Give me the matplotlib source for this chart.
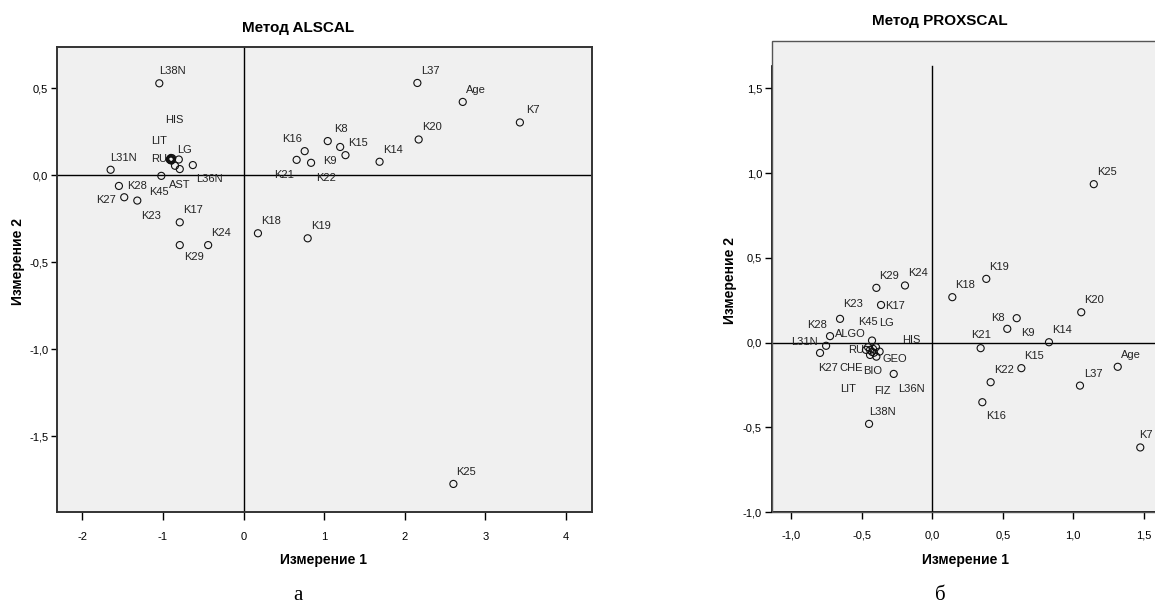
import matplotlib
matplotlib.use("Agg")
import matplotlib.pyplot as plt
from matplotlib.patches import Rectangle

plt.rcParams['font.family'] = ['Liberation Sans', 'DejaVu Sans']

# variables (same order for both solutions)
names = ["L31N", "L36N", "L37", "L38N", "Age", "K7", "K8", "K9", "K14", "K15",
         "K16", "K17", "K18", "K19", "K20", "K21", "K22", "K23", "K24", "K25",
         "K27", "K28", "K29", "K45", "HIS", "LIT", "LG", "RUS", "AST", "GEO",
         "BIO", "CHE", "FIZ", "ALGO"]

# ALSCAL coordinates
alscal_x = [-1.649, -0.629, 2.157, -1.045, 2.720, 3.429, 1.045, 1.199, 1.688, 1.265,
            0.759, -0.791, 0.179, 0.796, 2.173, 0.659, 0.838, -1.318, -0.439, 2.604,
            -1.480, -1.546, -0.791, -1.020, -0.900, -0.910, -0.803, -0.890, -0.791, -0.905,
            -0.885, -0.895, -0.850, -0.915]
alscal_y = [0.032, 0.059, 0.531, 0.529, 0.422, 0.304, 0.197, 0.163, 0.078, 0.116,
            0.139, -0.270, -0.333, -0.362, 0.206, 0.089, 0.072, -0.145, -0.401, -1.774,
            -0.126, -0.061, -0.401, -0.003, 0.100, 0.095, 0.091, 0.092, 0.036, 0.088,
            0.098, 0.085, 0.055, 0.090]

# PROXSCAL coordinates
prox_x = [-0.754, -0.274, 1.048, -0.449, 1.316, 1.476, 0.599, 0.532, 0.828, 0.632,
          0.355, -0.364, 0.142, 0.383, 1.057, 0.343, 0.414, -0.655, -0.194, 1.146,
          -0.797, -0.726, -0.397, -0.428, -0.374, -0.442, -0.400, -0.456, -0.421, -0.397,
          -0.428, -0.442, -0.414, -0.471]
prox_y = [-0.019, -0.185, -0.254, -0.480, -0.143, -0.619, 0.144, 0.081, 0.002, -0.151,
          -0.352, 0.222, 0.268, 0.376, 0.179, -0.033, -0.234, 0.140, 0.337, 0.935,
          -0.061, 0.038, 0.323, 0.012, -0.053, -0.043, -0.027, -0.027, -0.037, -0.083,
          -0.055, -0.073, -0.060, -0.043]

alscal_xticks = [-2, -1, 0, 1, 2, 3, 4]
alscal_yticks = [0.5, 0.0, -0.5, -1.0, -1.5]
prox_xticks = [-1.0, -0.5, 0.0, 0.5, 1.0, 1.5]
prox_yticks = [1.5, 1.0, 0.5, 0.0, -0.5, -1.0]

# label placement (pixels: right, down) where SPSS moved a label off the default spot
alscal_offsets = {"HIS": (3, -38), "LIT": (-11, -18), "RUS": (-13, 0), "LG": (6, -10),
                  "AST": (0, 16), "L36N": (17, 14), "K45": (-2, 16), "K28": (18, 0),
                  "K27": (-18, 3), "K23": (14, 15), "K29": (14, 12), "K16": (-13, -12),
                  "K9": (-10, 14), "K21": (-13, 15), "K22": (15, 15)}
alscal_hidden = {"GEO", "BIO", "CHE", "FIZ", "ALGO"}
prox_offsets = {"K8": (-19, 0), "K9": (21, 4), "K21": (0, -13), "K16": (14, 14),
                "K17": (14, 1), "K23": (13, -15), "K28": (-13, -11), "L31N": (-22, -4),
                "K27": (8, 15), "L36N": (18, 15), "K45": (-4, -19), "LG": (11, -24),
                "ALGO": (-16, -16), "HIS": (32, -12), "RUS": (-12, 3), "GEO": (18, 2),
                "CHE": (-19, 13), "BIO": (1, 19), "LIT": (-22, 39), "FIZ": (8, 38),
                "K7": (6, -12)}
prox_hidden = {"AST"}
shown_text = {"RUS": "RU"}

W, H = 1155, 606
fig = plt.figure(figsize=(W / 100, H / 100), dpi=100)


def fmt(v):
    return f"{v:.1f}".replace(".", ",")


def draw(ax, xs, ys, offsets, hidden):
    ax.set_facecolor("#f0f0f0")
    ax.axhline(0, color="black", lw=1.0, zorder=1)
    ax.scatter(xs, ys, s=26, facecolors="none", edgecolors="#111111",
               linewidths=0.8, zorder=3)
    for n, x, y in zip(names, xs, ys):
        if n in hidden:
            continue
        dx, dy = offsets.get(n, (13, -12))
        ax.annotate(shown_text.get(n, n), (x, y), xytext=(dx, -dy),
                    textcoords="offset pixels", ha="center", va="center",
                    fontsize=8, color="#222222", zorder=2)


# ALSCAL
ax1 = fig.add_axes([56.7 / W, 1 - 512.3 / H, 535 / W, 465 / H])
draw(ax1, alscal_x, alscal_y, alscal_offsets, alscal_hidden)
ax1.axvline(0, color="black", lw=1.0, zorder=1)
ax1.set_xlim(-2.318, 4.32)
ax1.set_ylim(-1.937, 0.736)
ax1.set_xticks(alscal_xticks)
ax1.set_xticklabels([str(t) for t in alscal_xticks])
ax1.set_yticks(alscal_yticks)
ax1.set_yticklabels([fmt(t) for t in alscal_yticks])
for s in ax1.spines.values():
    s.set_color("#333333")
    s.set_linewidth(1.4)
ax1.tick_params(axis="x", length=6, width=1, pad=8, labelsize=8)
ax1.tick_params(axis="y", length=4, width=1, pad=2, labelsize=8)

# PROXSCAL
ax2 = fig.add_axes([771.7 / W, 1 - 512 / H, 388.3 / W, 471 / H])
draw(ax2, prox_x, prox_y, prox_offsets, prox_hidden)
ax2.plot([0, 0], [-1.0, 1.632], color="black", lw=1.0, zorder=1)
ax2.set_xlim(-1.14, 1.616)
ax2.set_ylim(-1.0, 1.78)
ax2.set_xticks(prox_xticks)
ax2.set_xticklabels([fmt(t) for t in prox_xticks])
ax2.set_yticks(prox_yticks)
ax2.set_yticklabels([fmt(t) for t in prox_yticks])
for s in ax2.spines.values():
    s.set_visible(False)
ax2.add_patch(Rectangle((0, 0), 1, 1, transform=ax2.transAxes, fill=False,
                        ec="#555555", lw=1.0, clip_on=False, zorder=4))
ax2.spines["left"].set_visible(True)
ax2.spines["left"].set_bounds(-1.0, 1.632)
ax2.spines["left"].set_color("black")
ax2.spines["left"].set_linewidth(1.2)
ax2.spines["bottom"].set_visible(True)
ax2.spines["bottom"].set_color("black")
ax2.spines["bottom"].set_linewidth(1.2)
ax2.tick_params(axis="x", length=5, width=1, pad=8, labelsize=8)
ax2.tick_params(axis="y", length=5, width=1, pad=2, labelsize=8)

# titles, axis names, captions
fig.text(298 / W, 1 - 28 / H, "Метод ALSCAL", ha="center", va="center",
         fontsize=11, fontweight="bold")
fig.text(940 / W, 1 - 21 / H, "Метод PROXSCAL", ha="center", va="center",
         fontsize=11, fontweight="bold")
fig.text(324 / W, 1 - 560 / H, "Измерение 1", ha="center", va="center",
         fontsize=10, fontweight="bold")
fig.text(966 / W, 1 - 560 / H, "Измерение 1", ha="center", va="center",
         fontsize=10, fontweight="bold")
fig.text(18 / W, 1 - 262 / H, "Измерение 2", ha="center", va="center",
         fontsize=10, fontweight="bold", rotation=90)
fig.text(730 / W, 1 - 281 / H, "Измерение 2", ha="center", va="center",
         fontsize=10, fontweight="bold", rotation=90)
fig.text(298 / W, 1 - 595 / H, "а", ha="center", va="center",
         fontsize=15, family="Liberation Serif")
fig.text(940 / W, 1 - 595 / H, "б", ha="center", va="center",
         fontsize=15, family="Liberation Serif")

fig.savefig("out.png", dpi=100, facecolor="white")
